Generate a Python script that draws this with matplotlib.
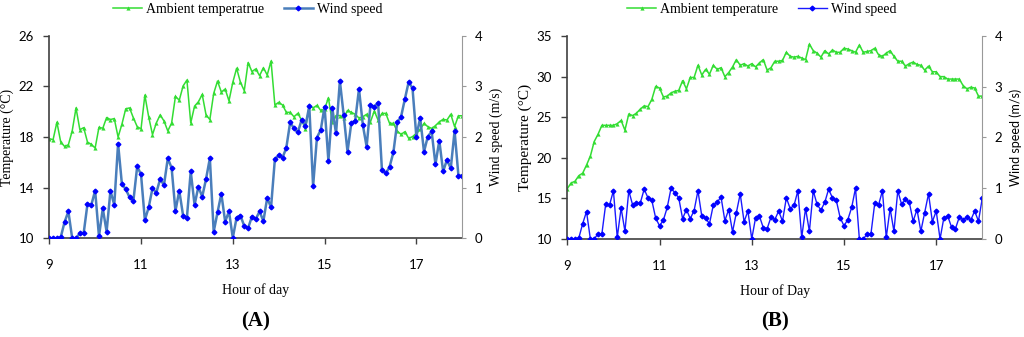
import numpy as np
import matplotlib
matplotlib.use("Agg")
import matplotlib.pyplot as plt

# panel A: ambient temperature (C) and wind speed (m/s), every 5 min from 9:00
temp_a = [17.87, 17.79, 19.17, 17.60, 17.26, 17.39, 18.48, 20.30, 18.58, 18.74,
          17.60, 17.42, 17.13, 18.77, 18.69, 19.54, 19.38, 19.46, 18.00, 19.01,
          20.23, 20.30, 19.51, 18.82, 18.64, 21.31, 19.59, 18.19, 19.11, 19.75,
          19.27, 18.48, 19.11, 21.21, 20.91, 22.03, 22.50, 19.11, 20.44, 20.78,
          21.36, 19.75, 19.38, 21.44, 22.42, 21.55, 21.79, 20.86, 22.32, 23.43,
          22.32, 21.66, 23.88, 23.17, 23.38, 22.85, 23.47, 22.90, 24.00, 20.53,
          20.74, 20.53, 19.95, 19.95, 19.60, 19.87, 19.34, 18.63, 20.50, 20.30,
          20.50, 20.10, 20.20, 21.10, 19.20, 19.70, 19.70, 19.50, 20.10, 19.95,
          19.80, 19.50, 19.60, 19.80, 19.20, 20.05, 19.34, 19.87, 19.87, 19.08,
          19.08, 18.47, 18.21, 18.42, 17.90, 18.03, 18.29, 18.60, 19.08, 18.82,
          18.68, 18.90, 19.20, 19.40, 19.34, 19.80, 18.82, 19.68, 19.68]
wind_a = [0.00, 0.00, 0.00, 0.02, 0.32, 0.53, 0.00, 0.00, 0.10, 0.10,
          0.68, 0.66, 0.94, 0.04, 0.59, 0.13, 0.94, 0.66, 1.87, 1.07,
          0.97, 0.81, 0.74, 1.42, 1.26, 0.36, 0.61, 0.99, 0.90, 1.17,
          1.05, 1.58, 1.39, 0.54, 0.94, 0.45, 0.41, 1.32, 0.66, 1.02,
          0.82, 1.17, 1.58, 0.13, 0.51, 0.88, 0.33, 0.53, 0.01, 0.41,
          0.45, 0.24, 0.20, 0.43, 0.38, 0.53, 0.34, 0.80, 0.61, 1.56,
          1.64, 1.59, 1.79, 2.29, 2.17, 2.09, 2.34, 2.22, 2.61, 1.03,
          1.99, 2.14, 2.60, 1.53, 2.58, 2.07, 3.11, 2.43, 1.71, 2.28,
          2.32, 2.95, 2.24, 1.81, 2.63, 2.60, 2.68, 1.35, 1.28, 1.41,
          1.70, 2.29, 2.40, 2.75, 3.09, 2.96, 2.01, 2.38, 1.71, 2.01,
          2.11, 1.46, 1.93, 1.32, 1.55, 1.38, 2.12, 1.24, 1.24]

# panel B
temp_b = [16.2, 16.9, 17.1, 17.8, 18.1, 19.1, 20.2, 22.0, 22.9, 24.0,
          24.0, 24.0, 24.0, 24.2, 24.6, 23.4, 25.4, 25.2, 25.5, 26.0,
          26.4, 26.3, 27.2, 28.8, 28.6, 27.5, 27.6, 28.0, 28.2, 28.3,
          29.5, 28.5, 29.9, 29.9, 31.4, 30.2, 30.9, 30.3, 31.4, 30.9,
          31.1, 30.0, 30.5, 31.2, 32.1, 31.4, 31.6, 31.3, 31.6, 31.2,
          31.7, 32.1, 30.8, 31.1, 31.9, 31.9, 32.0, 33.0, 32.5, 32.4,
          32.5, 32.3, 32.1, 34.0, 33.2, 32.9, 32.4, 33.2, 32.8, 33.3,
          33.0, 33.0, 33.5, 33.4, 33.2, 33.0, 33.9, 33.0, 33.1, 33.2,
          33.5, 32.7, 32.5, 32.9, 33.2, 32.5, 31.9, 31.9, 31.3, 31.6,
          31.8, 31.5, 31.4, 30.8, 31.3, 30.6, 30.6, 30.0, 30.0, 29.7,
          29.7, 29.7, 29.7, 28.9, 28.5, 28.7, 28.6, 27.6, 27.6]
wind_b = [0.00, 0.00, 0.00, 0.02, 0.30, 0.54, 0.00, 0.00, 0.10, 0.10,
          0.69, 0.67, 0.95, 0.03, 0.61, 0.15, 0.95, 0.67, 0.70, 0.71,
          0.98, 0.81, 0.76, 0.41, 0.26, 0.37, 0.62, 1.00, 0.91, 0.81,
          0.40, 0.58, 0.40, 0.56, 0.95, 0.45, 0.41, 0.30, 0.67, 0.72,
          0.83, 0.36, 0.58, 0.14, 0.52, 0.89, 0.34, 0.55, 0.00, 0.42,
          0.45, 0.22, 0.20, 0.43, 0.38, 0.55, 0.35, 0.81, 0.60, 0.66,
          0.95, 0.03, 0.60, 0.15, 0.95, 0.68, 0.57, 0.72, 0.98, 0.81,
          0.76, 0.42, 0.26, 0.38, 0.62, 1.00, 0.00, 0.00, 0.09, 0.09,
          0.70, 0.67, 0.95, 0.03, 0.60, 0.15, 0.95, 0.68, 0.78, 0.72,
          0.35, 0.58, 0.15, 0.52, 0.89, 0.34, 0.55, 0.00, 0.42, 0.45,
          0.23, 0.20, 0.43, 0.38, 0.43, 0.37, 0.55, 0.35, 0.81]

x_ticks = [9, 11, 13, 15, 17]

GREEN = "#33dd33"
SERIF = "Liberation Serif"
SANS = "Lato"

fig = plt.figure(figsize=(10.24, 3.37), dpi=100)


def make_panel(rect, temp, wind, ylim, yticks, line_col, lw, labels, xlabel,
               tlabel_size, wlabel_font, wlabel_size, letter, leg_x):
    hours = 9 + np.arange(len(temp)) * 5 / 60
    ax = fig.add_axes(rect)
    l1, = ax.plot(hours, temp, color=GREEN, lw=1.1, marker="^", ms=3,
                  markeredgewidth=0)
    ax.set_xlim(9, 18)
    ax.set_ylim(*ylim)
    ax.set_yticks(yticks)
    ax.set_xticks(x_ticks)
    for s in ["top", "right"]:
        ax.spines[s].set_visible(False)
    for s in ["left", "bottom"]:
        ax.spines[s].set_color("#404040")
        ax.spines[s].set_linewidth(1.2)
    ax.tick_params(direction="out", length=4, width=1, colors="#404040",
                   labelcolor="black", labelsize=9.5)
    ax.tick_params(axis="y", pad=7)
    ax.tick_params(axis="x", pad=11)
    for t in ax.get_xticklabels() + ax.get_yticklabels():
        t.set_family(SANS)
    ax.set_ylabel("Temperature (\u00b0C)", family=SERIF, fontsize=tlabel_size,
                  labelpad=3)
    ax.set_xlabel(xlabel, family=SERIF, fontsize=10, labelpad=9)

    ax2 = ax.twinx()
    l2, = ax2.plot(hours, wind, color=line_col, lw=lw, marker="D", ms=2.4,
                   markerfacecolor="#0000ff", markeredgecolor="#0000ff")
    ax2.set_ylim(0, 4)
    ax2.set_yticks([0, 1, 2, 3, 4])
    for s in ["top", "left", "bottom"]:
        ax2.spines[s].set_visible(False)
    ax2.spines["right"].set_color("#999999")
    ax2.tick_params(direction="out", length=3, colors="#999999",
                    labelcolor="black", labelsize=9.5, pad=6)
    for t in ax2.get_yticklabels():
        t.set_family(SANS)
    ax2.set_ylabel("Wind speed (m/s)", family=wlabel_font,
                   fontsize=wlabel_size, labelpad=5)

    fig.legend([l1, l2], labels, loc="center", bbox_to_anchor=(leg_x, 0.972),
               ncol=2, frameon=False, handlelength=2.1, handletextpad=0.3,
               columnspacing=1.4, prop={"family": SERIF, "size": 10})
    fig.text(rect[0] + rect[2] / 2, 0.045, letter, ha="center", va="center",
             family=SERIF, fontsize=15, fontweight="bold")


make_panel([0.0481, 0.2929, 0.4033, 0.601], temp_a, wind_a, (10, 26),
           [10, 14, 18, 22, 26], "#4a7ebb", 1.8,
           ["Ambient temperatrue", "Wind speed"], "Hour of day", 10, SERIF,
           10, "(A)", 0.242)
make_panel([0.554, 0.2910, 0.4053, 0.602], temp_b, wind_b, (10, 35),
           [10, 15, 20, 25, 30, 35], "#1a1aff", 1.0,
           ["Ambient temperature", "Wind speed"], "Hour of Day", 11, SANS,
           9, "(B)", 0.744)

fig.savefig("out.png", dpi=100)
